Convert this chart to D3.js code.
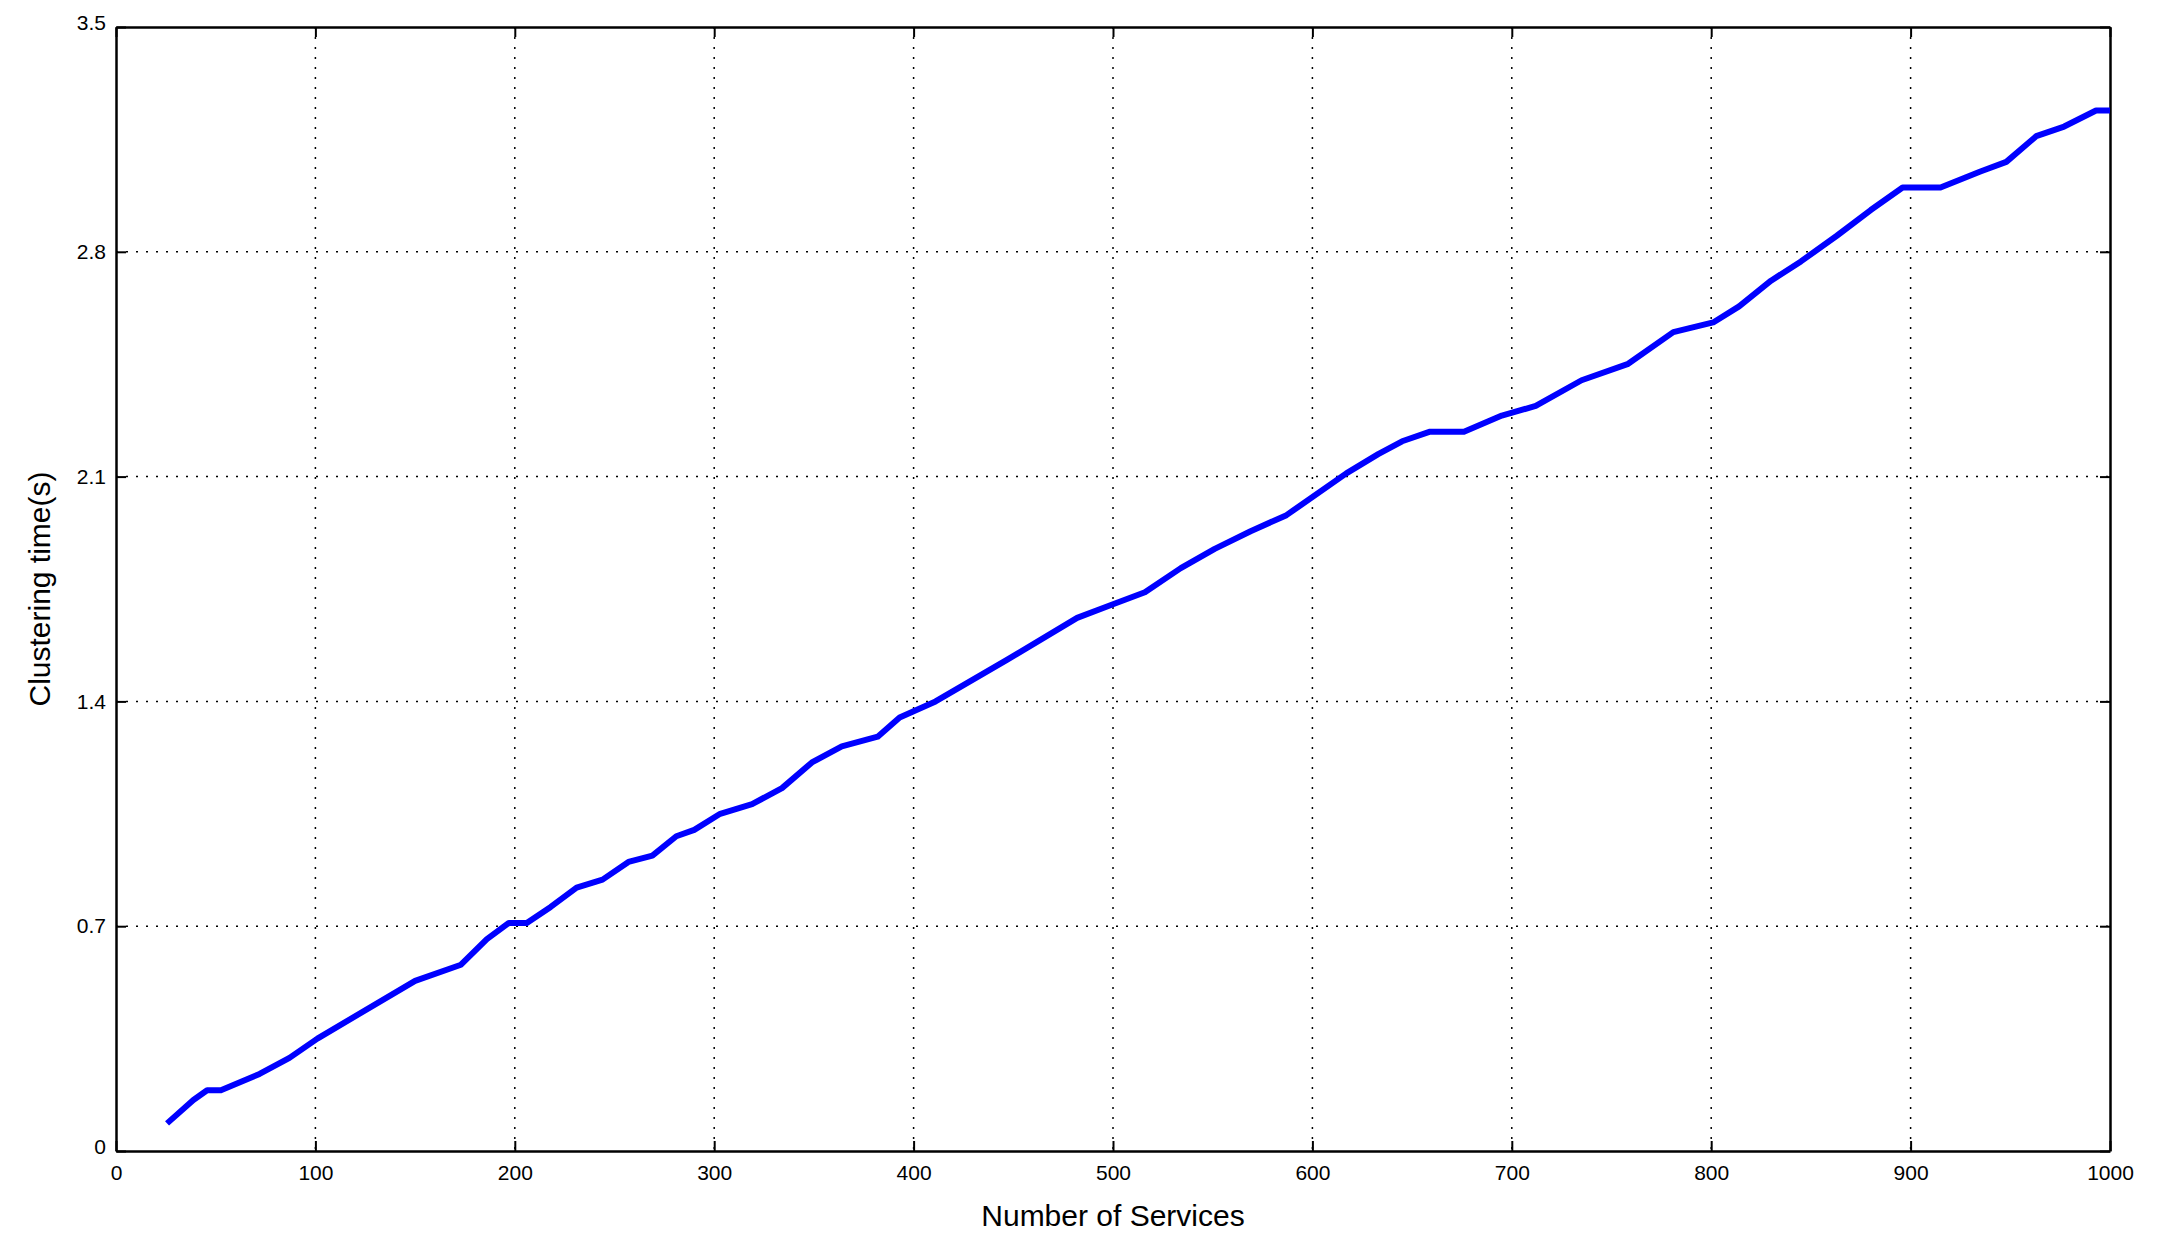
<!DOCTYPE html>
<html>
<head>
<meta charset="utf-8">
<script src="https://cdn.jsdelivr.net/npm/d3@7"></script>
<style>
  body { margin: 0; background: #fff; }
  text { font-family: "Liberation Sans", Arial, sans-serif; }
</style>
</head>
<body>
<svg id="chart" width="2165" height="1253"></svg>
<script>
// services count vs clustering time
const services = [25.6, 38.8, 45.7, 52.6, 72, 87, 101, 150, 173, 186, 197, 206, 218, 231, 244, 257, 269, 281, 290, 303, 319, 334, 349, 364, 382, 393, 411, 447, 482, 499, 516, 534, 551, 569, 587, 617, 633, 645, 659, 676, 695, 712, 735, 758, 781, 801, 814, 830, 845, 863, 880, 896, 915, 935, 948, 963, 977, 993, 1000];
const times = [0.086, 0.159, 0.189, 0.189, 0.24, 0.29, 0.35, 0.53, 0.58, 0.66, 0.71, 0.71, 0.76, 0.82, 0.845, 0.90, 0.92, 0.98, 1.00, 1.05, 1.08, 1.13, 1.21, 1.26, 1.29, 1.35, 1.40, 1.53, 1.66, 1.70, 1.74, 1.815, 1.875, 1.93, 1.98, 2.11, 2.17, 2.21, 2.24, 2.24, 2.29, 2.32, 2.40, 2.45, 2.55, 2.58, 2.63, 2.71, 2.77, 2.85, 2.93, 3.00, 3.00, 3.05, 3.08, 3.16, 3.19, 3.24, 3.24];
const xTicks = [0, 100, 200, 300, 400, 500, 600, 700, 800, 900, 1000];
const yTicks = [0, 0.7, 1.4, 2.1, 2.8, 3.5];

const plotLeft = 116, plotTop = 27, plotRight = 2110, plotBottom = 1151;
const svg = d3.select("#chart");

const x = d3.scaleLinear().domain([0, 1000]).range([plotLeft, plotRight]);
const y = d3.scaleLinear().domain([0, 3.5]).range([plotBottom, plotTop]);

//dotted grid lines
svg.append("g").selectAll("line").data(xTicks.slice(1, -1)).enter().append("line")
  .attr("x1", d => x(d)).attr("x2", d => x(d)).attr("y1", plotTop).attr("y2", plotBottom)
  .attr("stroke", "#000").attr("stroke-width", 1.5).attr("stroke-dasharray", "2,8");
svg.append("g").selectAll("line").data(yTicks.slice(1, -1)).enter().append("line")
  .attr("y1", d => y(d)).attr("y2", d => y(d)).attr("x1", plotLeft).attr("x2", plotRight)
  .attr("stroke", "#000").attr("stroke-width", 1.5).attr("stroke-dasharray", "2,8");

//axes with inward ticks
const xAxis = svg.append("g").attr("transform", `translate(0,${plotBottom})`)
  .call(d3.axisBottom(x).tickValues(xTicks).tickFormat(d3.format("d")).tickSizeInner(-10).tickSizeOuter(0).tickPadding(14));
const xTop = svg.append("g").attr("transform", `translate(0,${plotTop})`)
  .call(d3.axisTop(x).tickValues(xTicks).tickFormat("").tickSizeInner(-10).tickSizeOuter(0));
const yAxis = svg.append("g").attr("transform", `translate(${plotLeft},0)`)
  .call(d3.axisLeft(y).tickValues(yTicks).tickFormat(d => d === 0 ? "0" : d3.format(".1f")(d)).tickSizeInner(-10).tickSizeOuter(0).tickPadding(10));
const yRight = svg.append("g").attr("transform", `translate(${plotRight},0)`)
  .call(d3.axisRight(y).tickValues(yTicks).tickFormat("").tickSizeInner(-10).tickSizeOuter(0));

[xAxis, xTop, yAxis, yRight].forEach(g => {
  g.select(".domain").attr("stroke", "#000").attr("stroke-width", 2.5);
  g.selectAll(".tick line").attr("stroke", "#000").attr("stroke-width", 2);
  g.selectAll("text").attr("font-size", 21).attr("fill", "#000").style("font-family", "Liberation Sans, Arial, sans-serif");
});
yAxis.selectAll(".tick text").attr("dy", d => (d === 3.5 || d === 0) ? "0.1em" : "0.32em");

//line
const line = d3.line().x((d, i) => x(services[i])).y(d => y(d));
svg.append("path").datum(times).attr("d", line)
  .attr("fill", "none").attr("stroke", "#0000ff").attr("stroke-width", 6).attr("stroke-linejoin", "round");

//axis labels
svg.append("text").attr("x", x(500)).attr("y", 1226).attr("text-anchor", "middle")
  .attr("font-size", 30).text("Number of Services");
svg.append("text").attr("transform", `translate(50,${y(1.75)}) rotate(-90)`).attr("text-anchor", "middle")
  .attr("font-size", 30).text("Clustering time(s)");
</script>
</body>
</html>
